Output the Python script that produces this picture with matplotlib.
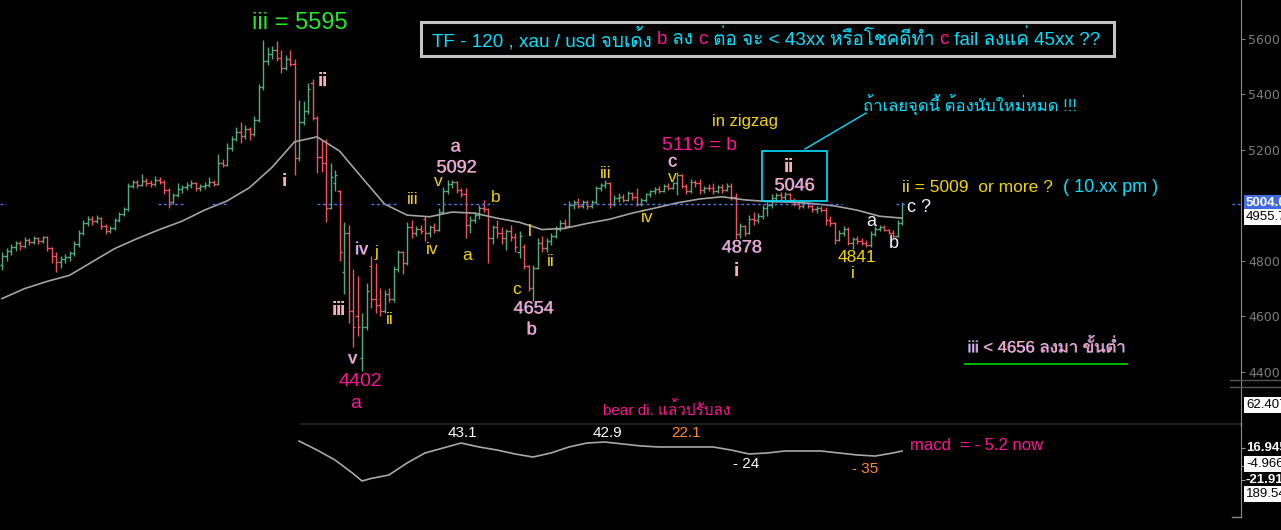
import numpy as np
import matplotlib
matplotlib.use('Agg')
import matplotlib.pyplot as plt
import matplotlib.patheffects as pe
from matplotlib import font_manager
from matplotlib.lines import Line2D
from matplotlib.patches import Rectangle

# ---- bar data (2h xau/usd), one bar every 4.5 px ----
opens = [4785, 4815, 4835, 4850, 4862, 4852, 4875, 4866, 4882, 4870,
         4884, 4845, 4815, 4795, 4805, 4812, 4826, 4860, 4900, 4935,
         4950, 4942, 4952, 4925, 4905, 4918, 4948, 4968, 4985, 5070,
         5082, 5074, 5088, 5080, 5076, 5092, 5084, 5055, 5012, 5035,
         5058, 5064, 5074, 5078, 5060, 5068, 5072, 5085, 5076, 5150,
         5145, 5205, 5238, 5265, 5250, 5275, 5255, 5305, 5425, 5520,
         5545, 5560, 5530, 5495, 5525, 5508, 5170, 5300, 5340, 5440,
         5315, 5175, 5150, 4990, 5080, 5050, 4760, 4900, 4620, 4600,
         4450, 4560, 4780, 4660, 4640, 4620, 4680, 4660, 4770, 4830,
         4790, 4920, 4900, 4915, 4950, 4900, 4920, 4910, 4975, 5050,
         5075, 5085, 5055, 5040, 4930, 4945, 4965, 4990, 4985, 4880,
         4920, 4900, 4880, 4905, 4885, 4830, 4850, 4780, 4700, 4775,
         4865, 4845, 4870, 4890, 4915, 4935, 4925, 5000, 5010, 4998,
         5012, 4995, 5010, 5062, 5072, 5078, 5005, 5025, 5030, 5020,
         5042, 5030, 5005, 5018, 5040, 5050, 5058, 5052, 5070, 5062,
         5080, 5110, 5070, 5050, 5085, 5078, 5055, 5062, 5060, 5052,
         5065, 5055, 5068, 5030, 4895, 4925, 4900, 4950, 4945, 4960,
         4990, 5000, 5025, 5035, 5030, 5040, 5020, 5005, 4995, 5008,
         4998, 4985, 4990, 4982, 4945, 4935, 4875, 4900, 4915, 4865,
         4878, 4870, 4862, 4858, 4895, 4915, 4920, 4910, 4900, 4890, 4935]
highs = [4830, 4845, 4860, 4870, 4870, 4885, 4880, 4890, 4886, 4890,
         4888, 4850, 4830, 4815, 4825, 4835, 4870, 4910, 4945, 4960,
         4962, 4965, 4958, 4932, 4925, 4955, 4975, 4992, 5080, 5092,
         5090, 5112, 5096, 5090, 5105, 5100, 5090, 5062, 5045, 5078,
         5072, 5085, 5090, 5082, 5075, 5085, 5100, 5090, 5185, 5165,
         5225, 5250, 5280, 5300, 5290, 5282, 5320, 5435, 5595, 5570,
         5575, 5590, 5560, 5540, 5560, 5525, 5380, 5375, 5440, 5455,
         5320, 5235, 5240, 5150, 5125, 5055, 4940, 4930, 4770, 4745,
         4611, 4720, 4815, 4790, 4700, 4695, 4700, 4780, 4840, 4835,
         4940, 4945, 4925, 4930, 4960, 4930, 4935, 4990, 5065, 5090,
         5092, 5088, 5060, 5060, 4960, 4975, 5000, 5020, 4990, 4930,
         4945, 4920, 4915, 4930, 4900, 4905, 4860, 4785, 4785, 4880,
         4890, 4880, 4900, 4925, 4945, 4950, 5015, 5020, 5025, 5020,
         5018, 5020, 5070, 5080, 5090, 5085, 5035, 5045, 5040, 5050,
         5048, 5060, 5025, 5045, 5055, 5065, 5068, 5075, 5078, 5085,
         5119, 5112, 5075, 5095, 5092, 5095, 5068, 5075, 5080, 5072,
         5075, 5080, 5078, 5045, 4935, 4930, 4965, 4975, 4970, 5000,
         5010, 5040, 5045, 5046, 5046, 5044, 5025, 5010, 5015, 5012,
         5005, 4998, 4998, 4992, 4960, 4940, 4910, 4925, 4920, 4885,
         4890, 4880, 4875, 4905, 4925, 4930, 4928, 4915, 4912, 4945, 5010]
lows = [4765, 4800, 4820, 4835, 4840, 4845, 4855, 4860, 4860, 4862,
        4835, 4790, 4760, 4775, 4790, 4800, 4815, 4850, 4892, 4925,
        4930, 4935, 4915, 4895, 4898, 4910, 4940, 4960, 4980, 5060,
        5062, 5068, 5070, 5065, 5070, 5075, 5040, 4990, 5005, 5030,
        5045, 5055, 5062, 5050, 5052, 5058, 5066, 5068, 5074, 5138,
        5140, 5195, 5230, 5225, 5240, 5235, 5250, 5300, 5415, 5505,
        5525, 5520, 5475, 5488, 5500, 5107, 5160, 5290, 5330, 5305,
        5115, 5120, 4940, 4985, 5050, 4800, 4680, 4575, 4490, 4530,
        4402, 4550, 4630, 4610, 4600, 4610, 4650, 4650, 4760, 4750,
        4785, 4880, 4890, 4895, 4870, 4885, 4900, 4905, 4970, 5040,
        5060, 5045, 5030, 4880, 4900, 4935, 4950, 4975, 4790, 4860,
        4880, 4860, 4840, 4870, 4830, 4810, 4770, 4690, 4654, 4770,
        4830, 4830, 4855, 4880, 4905, 4915, 4920, 4985, 4990, 4990,
        4985, 4988, 5005, 5050, 5060, 4990, 4995, 5010, 5010, 5015,
        5020, 4995, 4998, 5010, 5030, 5040, 5045, 5048, 5055, 5058,
        5035, 5060, 5040, 5045, 5065, 5040, 5045, 5050, 5040, 5045,
        5045, 5050, 5020, 4878, 4880, 4890, 4895, 4930, 4935, 4950,
        4960, 4990, 5010, 5015, 5020, 5010, 4995, 4985, 4988, 4990,
        4975, 4970, 4975, 4930, 4925, 4860, 4870, 4890, 4855, 4841,
        4860, 4855, 4850, 4850, 4888, 4905, 4905, 4895, 4880, 4885, 4930]
closes = [4815, 4835, 4850, 4862, 4852, 4875, 4866, 4882, 4870, 4884,
          4845, 4815, 4795, 4805, 4812, 4826, 4860, 4900, 4935, 4950,
          4942, 4952, 4925, 4905, 4918, 4948, 4968, 4985, 5070, 5082,
          5074, 5088, 5080, 5076, 5092, 5084, 5055, 5012, 5035, 5058,
          5064, 5074, 5078, 5060, 5068, 5072, 5085, 5076, 5150, 5145,
          5205, 5238, 5265, 5250, 5275, 5255, 5305, 5425, 5520, 5545,
          5560, 5530, 5495, 5525, 5508, 5170, 5300, 5340, 5420, 5315,
          5175, 5150, 4990, 5100, 5110, 4830, 4900, 4620, 4560, 4560,
          4560, 4690, 4660, 4640, 4620, 4680, 4660, 4770, 4830, 4790,
          4920, 4900, 4915, 4905, 4900, 4920, 4910, 4975, 5050, 5075,
          5085, 5055, 5040, 4930, 4945, 4965, 4990, 4985, 4880, 4920,
          4900, 4880, 4905, 4885, 4850, 4890, 4780, 4700, 4775, 4865,
          4845, 4870, 4890, 4915, 4935, 4925, 5000, 5010, 4998, 5012,
          4995, 5010, 5062, 5072, 5078, 5005, 5025, 5030, 5020, 5042,
          5030, 5005, 5018, 5040, 5050, 5058, 5052, 5070, 5062, 5080,
          5110, 5070, 5050, 5085, 5078, 5055, 5062, 5060, 5052, 5065,
          5055, 5068, 5030, 4895, 4925, 4900, 4950, 4945, 4960, 4990,
          5000, 5025, 5035, 5030, 5040, 5020, 5005, 4995, 5008, 4998,
          4985, 4990, 4982, 4945, 4935, 4875, 4900, 4915, 4865, 4878,
          4870, 4862, 4858, 4895, 4915, 4920, 4910, 4900, 4890, 4935, 5004]

# moving average, read every 5th bar
ma_idx = list(range(0, 201, 5))
ma_vals = [4663, 4699, 4725, 4747, 4795, 4843, 4879, 4912, 4942, 4982,
           5015, 5063, 5136, 5228, 5246, 5195, 5099, 5004, 4964, 4958,
           4975, 4971, 4953, 4938, 4912, 4916, 4934, 4949, 4971, 4989,
           5008, 5022, 5030, 5019, 5013, 5011, 5006, 4997, 4982, 4960, 4953]

# macd line (sub panel)
macd_idx = [66, 70, 74, 78, 80, 82, 86, 90, 94, 98, 102, 106, 110, 114, 118, 122,
            126, 130, 134, 138, 142, 146, 150, 154, 158, 162, 166, 170, 174, 178,
            182, 186, 190, 194, 198, 200]
macd_vals = [25.4, 14.5, 2.4, -14.0, -23.1, -20.1, -15.8, -1.3, 10.9, 16.9, 23.0,
             18.2, 14.5, 9.7, 6.0, 10.9, 18.2, 23.0, 24.2, 21.8, 19.4, 18.2, 18.2,
             18.2, 18.2, 14.5, 9.7, 10.9, 13.3, 13.3, 13.3, 10.9, 8.5, 7.2, 10.9, 13.3]

last_price = 5004.0
price_ticks = [4400, 4600, 4800, 5200, 5400, 5600]
# spans (in bar index) where the dotted last-price line is visible
last_spans = [(-0.4, 0.9), (34.7, 40.2), (46.7, 50.2), (70, 75.8), (82, 87.6),
              (96.7, 109.1), (124.7, 186.7), (198.7, 200.7), (273.3, 275.1)]


def thai_font():
    try:
        from fontTools.ttLib import TTFont
    except ImportError:
        return None
    for f in font_manager.fontManager.ttflist:
        try:
            cmap = TTFont(f.fname, fontNumber=0, lazy=True).getBestCmap()
            if cmap and 0x0E01 in cmap and 0x0E48 in cmap:
                return f.name
        except Exception:
            continue
    return None


TH = thai_font()
FAM = ['Liberation Sans'] + ([TH] if TH else []) + ['DejaVu Sans']

W, H = 1281, 530
GREEN = '#4fae80'
RED = '#f4525c'
PINK = '#ffaac0'
SHADOW = '#8f9cff'
YEL = '#f2d400'
MAG = '#ff1493'
CYAN = '#00e1ff'
ORANGE = '#ff8a2a'

fig = plt.figure(figsize=(W / 100, H / 100), dpi=100, facecolor='black')

# pixel mapping: bar i -> x = 2 + 4.5 i ; price -> y = 204 + (5004 - p) * 0.2775
ax = fig.add_axes([0, 1 - 423 / H, 1241 / W, 423 / H])
ax.set_facecolor('black')
ax.set_xlim(-2 / 4.5, 1239 / 4.5)
ax.set_ylim(5004 - 219 / 0.2775, 5004 + 204 / 0.2775)

o = np.array(opens); h = np.array(highs); l = np.array(lows); c = np.array(closes)
idx = np.arange(len(c))
col = np.where(c >= o, GREEN, RED)
ax.vlines(idx, l, h, colors=col, lw=1.0)
ax.hlines(o, idx - 0.5, idx, colors=col, lw=1.0)
ax.hlines(c, idx, idx + 0.5, colors=col, lw=1.0)

ax.plot(ma_idx, ma_vals, color='#a3a3a3', lw=1.2)

for a, b in last_spans:
    ax.plot([a, b], [last_price, last_price], color='#4f78e6', lw=1, ls=(0, (2, 2)),
            clip_on=False)

for s in ['top', 'left', 'bottom']:
    ax.spines[s].set_visible(False)
ax.spines['right'].set_color('#8a8a8a')
ax.set_xticks([])
ax.yaxis.tick_right()
ax.set_yticks(price_ticks)
ax.set_yticklabels(['%.1f' % v for v in price_ticks])
ax.tick_params(axis='y', colors='#7c7c7c', labelcolor='#7c7c7c', length=3, pad=2,
               labelsize=9)

# macd panel
ax2 = fig.add_axes([0, 1 - 517 / H, 1241 / W, 92 / H])
ax2.set_facecolor('black')
ax2.set_xlim(ax.get_xlim())
ax2.set_ylim(16.945 - 69 * 1.214, 16.945 + 23 * 1.214)
ax2.plot(macd_idx, macd_vals, color='#a8a8a8', lw=1.2)
for s in ['top', 'left', 'bottom']:
    ax2.spines[s].set_visible(False)
ax2.spines['right'].set_color('#8a8a8a')
ax2.set_xticks([])
ax2.yaxis.tick_right()
ax2.set_yticks([16.945, -4.966, -21.911])
ax2.set_yticklabels([])
ax2.tick_params(axis='y', colors='#9a9a9a', length=3)


def P(x, y):
    return x / W, 1 - y / H


def hline(x0, x1, y, color, lw=1.0):
    fig.add_artist(Line2D([x0 / W, x1 / W], [1 - y / H, 1 - y / H], color=color, lw=lw))


hline(301, 1241, 424, '#1e1e1e', 1.5)
hline(1230, 1281, 380, '#555555')
hline(1230, 1281, 387, '#555555')
hline(1232, 1241, 517, '#8a8a8a')
fig.add_artist(Line2D([1241 / W, 1241 / W], [1 - 423 / H, 1 - 425 / H], color='#8a8a8a', lw=1))


def label(x, y, s, color, size, shadow=False, ha='center', weight='normal'):
    t = fig.text(*P(x, y), s, color=color, fontsize=size, ha=ha, va='center',
                 family=FAM, weight=weight)
    if shadow:
        t.set_path_effects([pe.withSimplePatchShadow(offset=(-0.6, 0), shadow_rgbFace=SHADOW,
                                                     alpha=0.9)])
    return t


def rich(x, y, parts, size, width=None):
    r = fig.canvas.get_renderer()

    def w(s, sz):
        t = fig.text(0, 0, s + '.', fontsize=sz, family=FAM)
        v = t.get_window_extent(r).width
        t.remove()
        return v

    if width:
        size = size * width / (w(''.join(p for p, _ in parts), size) - w('', size))
    pre = ''
    for s, colr in parts:
        dx = w(pre, size) - w('', size)
        fig.text((x + dx) / W, 1 - y / H, s, color=colr, fontsize=size, ha='left',
                 va='center', family=FAM)
        pre += s


# title box
fig.add_artist(Rectangle(P(421, 56), (1114 - 421) / W, 34 / H, fill=False,
                         ec='#c4c4c4', lw=2.2, transform=fig.transFigure))
rich(432, 39, [('TF - 120 , xau / usd จบเด้ง ', CYAN), ('b', MAG), (' ลง ', CYAN),
               ('c', MAG), (' ต่อ จะ < 43xx หรือโชคดีทำ ', CYAN), ('c', MAG),
               (' fail ลงแค่ 45xx ??', CYAN)], 14, width=670)

label(300, 23, 'iii = 5595', '#26ec26', 17)

# pink wave labels
for x, y, s in [(285, 182, 'i'), (323, 81, 'ii'), (339, 310, 'iii'), (362, 250, 'iv'),
                (353, 359, 'v'), (456, 147, 'a'), (457, 168, '5092'), (534, 309, '4654'),
                (532, 330, 'b'), (673, 162, 'c'), (789, 167, 'ii'), (795, 186, '5046'),
                (742, 248, '4878'), (737, 271, 'i')]:
    label(x, y, s, PINK, 13, shadow=True)

# yellow wave labels
for x, y, s in [(376, 252, 'j'), (390, 319, 'ii'), (413, 200, 'iii'), (432, 249, 'iv'),
                (438, 181, 'v'), (496, 197, 'b'), (467, 255, 'a'), (530, 231, 'l'),
                (517, 290, 'c'), (551, 261, 'ii'), (606, 174, 'iii'), (647, 217, 'iv'),
                (672, 177, 'v'), (857, 257, '4841'), (853, 273, 'i')]:
    label(x, y, s, YEL, 12.5)

label(360, 382, '4402', MAG, 14)
label(356, 404, 'a', MAG, 14)
label(699, 145, '5119 = b', MAG, 14)
label(745, 121, 'in zigzag', YEL, 12)

# white a-b-c
label(871, 222, 'a', '#f2f2ff', 13)
label(894, 243, 'b', '#f2f2ff', 13)
label(907, 207, 'c ?', '#f2f2ff', 13, ha='left')

# box + note
fig.add_artist(Rectangle(P(762, 201), 65 / W, 50 / H, fill=False, ec=CYAN, lw=1.2,
                         transform=fig.transFigure))
fig.add_artist(Line2D([805 / W, 866 / W], [1 - 149 / H, 1 - 113 / H], color=CYAN, lw=1))
label(970, 105, 'ถ้าเลยจุดนี้ ต้องนับใหม่หมด !!!', CYAN, 12)

label(902, 188, 'ii = 5009  or more ?', YEL, 12.5, ha='left')
label(1063, 187, '( 10.xx pm )', CYAN, 13, ha='left')

label(1047, 347, 'iii < 4656 ลงมา ขั้นต่ำ', PINK, 12, shadow=True)
hline(965, 1127, 364, '#00c800', 1.3)

# macd notes
label(667, 410, 'bear di. แล้วปรับลง', MAG, 11)
label(462, 433, '43.1', 'white', 11)
label(607, 433, '42.9', 'white', 11)
label(686, 433, '22.1', ORANGE, 11)
label(746, 464, '- 24', 'white', 11)
label(865, 469, '- 35', ORANGE, 11)
label(910, 446, 'macd  = - 5.2 now', MAG, 12, ha='left')


# right side value tags
def tag(y, s, fc, tc, bold=False):
    kw = {}
    if fc:
        kw['bbox'] = dict(boxstyle='square,pad=0.18', fc=fc, ec='none')
    fig.text(1246 / W, 1 - y / H, s, color=tc, fontsize=9.5, ha='left', va='center',
             family='Liberation Sans', weight='bold' if bold else 'normal', **kw)


tag(203, '5004.0', '#4169e1', 'white', True)
tag(217, '4955.7', 'white', 'black')
tag(405, '62.407', 'white', 'black')
tag(448, '16.945', None, 'white', True)
tag(464, '-4.966', 'white', 'black')
tag(480, '-21.911', None, 'white', True)
tag(494, '189.54', 'white', 'black')

fig.savefig('out.png', dpi=100, facecolor='black')
